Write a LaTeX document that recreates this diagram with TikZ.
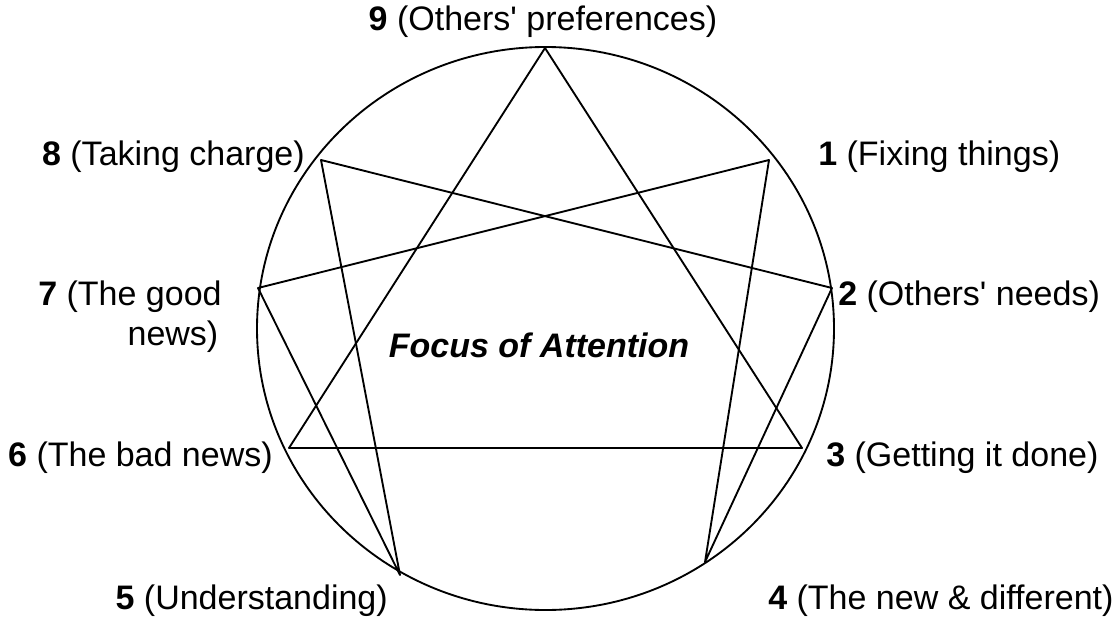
\documentclass[tikz,border=0pt]{standalone}
\usepackage{fontspec}
\setmainfont{Liberation Sans}
\begin{document}
\begin{tikzpicture}[x=0.75pt,y=0.75pt,yscale=-1,xscale=1,
  lbl/.style={inner sep=0pt,font=\fontsize{25.5}{30}\selectfont},
  enn/.style={line width=1.4pt,line join=round}]
\useasboundingbox (0,0) rectangle (1120,621);

%Shape: Circle
\draw [enn] (545.5,328.5) ellipse [x radius=288.5,y radius=281.5];

% points on the circle
\coordinate (p9) at (545,48);
\coordinate (p1) at (769,160);
\coordinate (p2) at (832,288);
\coordinate (p3) at (802,448);
\coordinate (p4) at (705,562);
\coordinate (p5) at (400,575);
\coordinate (p6) at (289,448);
\coordinate (p7) at (258,288);
\coordinate (p8) at (321,160);

%Triangle
\draw [enn] (p9) -- (p3) -- (p6) -- cycle;
%Hexad
\draw [enn] (p1) -- (p4) -- (p2) -- (p8) -- (p5) -- (p7) -- cycle;

% Text Node
\node [lbl] (t9) at (543,22) {\textbf{9} (Others\textquotesingle\ preferences)};
% Text Node
\node [lbl,anchor=west] (t1) at (818,157) {\textbf{1} (Fixing things)};
% Text Node
\node [lbl,anchor=west] (t2) at (838,297) {\textbf{2} (Others\textquotesingle\ needs)};
% Text Node
\node [lbl,anchor=west] (t3) at (826,458) {\textbf{3} (Getting it done)};
% Text Node
\node [lbl,anchor=west] (t4) at (768,601) {\textbf{4} (The new \& different)};
% Text Node
\node [lbl,anchor=east] (t5) at (388,601) {\textbf{5} (Understanding)};
% Text Node
\node [lbl,anchor=east] (t6) at (273,458) {\textbf{6} (The bad news)};
% Text Node
\node [lbl,anchor=west,align=left] (t7) at (38,317) {\textbf{7} (The good\\\hspace*{67pt}news)};
% Text Node
\node [lbl,anchor=east] (t8) at (305,157) {\textbf{8} (Taking charge)};
% Text Node
\node [lbl] (focus) at (539,345) {\textbf{\textit{Focus of Attention}}};

\end{tikzpicture}
\end{document}
